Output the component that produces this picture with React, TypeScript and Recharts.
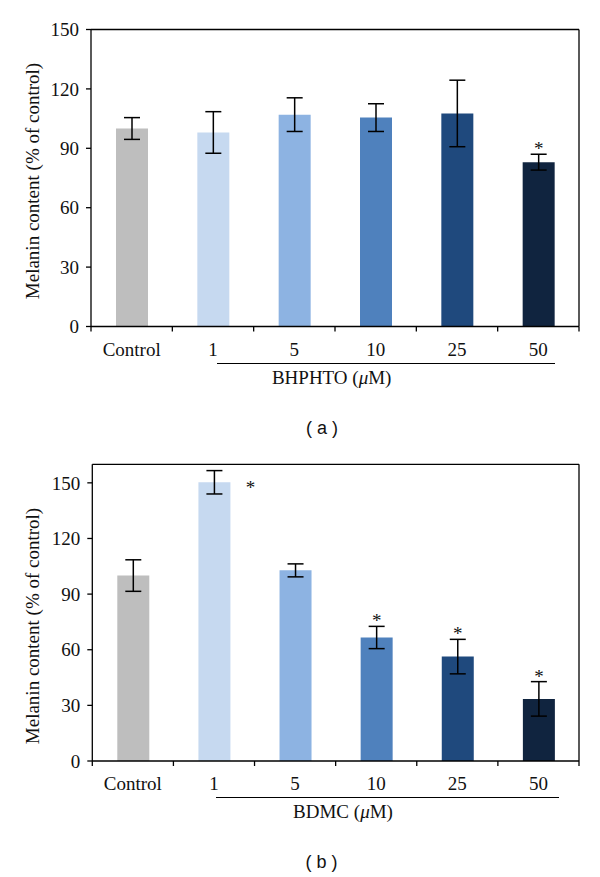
import { BarChart, Bar, Cell, XAxis, YAxis, ErrorBar, LabelList, Label, CartesianGrid } from 'recharts';

const categories = ['Control', '1', '5', '10', '25', '50'];
const barColors = ['#bebebe', '#c6d9f0', '#8db3e2', '#4f81bd', '#1f497d', '#10243f'];

// (a) BHPHTO
const bhphtoMean = [100, 98, 107, 105.5, 107.6, 83];
const bhphtoErr = [5.5, 10.5, 8.5, 7, 16.8, 4];
const bhphtoStars = [null, null, null, null, null, 'top'];

// (b) BDMC
const bdmcMean = [100, 150.3, 102.8, 66.6, 56.3, 33.5];
const bdmcErr = [8.5, 6.3, 3.5, 6, 9.3, 9.3];
const bdmcStars = [null, 'right', null, 'top', 'top', 'top'];

const yTicks = [0, 30, 60, 90, 120, 150];

const SERIF = '"Liberation Serif", "Times New Roman", serif';
const SANS = '"Liberation Sans", Arial, sans-serif';
const FS = 19;

function buildRows(mean: number[], err: number[]) {
  return categories.map((name, i) => ({ name, value: mean[i], err: err[i] }));
}

function makeTick(band: number) {
  return function CategoryTick(props: any) {
    const { x, y, payload, index } = props;
    const half = band / 2;
    return (
      <g>
        <line x1={x - half} x2={x - half} y1={y} y2={y + 5} stroke="#000" strokeWidth={1.3} />
        {index === categories.length - 1 && (
          <line x1={x + half} x2={x + half} y1={y} y2={y + 5} stroke="#000" strokeWidth={1.3} />
        )}
        <text x={x} y={y + 29} textAnchor="middle" fontFamily={SERIF} fontSize={FS} fill="#111">
          {payload.value}
        </text>
      </g>
    );
  };
}

function makeStars(err: number[], marks: (string | null)[]) {
  return function Star(props: any) {
    const { x, y, width, height, value, index } = props;
    const mark = marks[index];
    if (!mark || !value) return null;
    const perUnit = height / value;
    if (mark === 'right') {
      return (
        <text x={x + width + 20} y={y + 12} textAnchor="middle" fontFamily={SERIF} fontSize={FS} fill="#111">
          *
        </text>
      );
    }
    const top = y - err[index] * perUnit;
    return (
      <text x={x + width / 2} y={top + 1} textAnchor="middle" fontFamily={SERIF} fontSize={FS} fill="#111">
        *
      </text>
    );
  };
}

function yLabel(cy: number) {
  return () => (
    <text
      x={32}
      y={cy}
      transform={`rotate(-90, 32, ${cy})`}
      textAnchor="middle"
      dominantBaseline="central"
      fontFamily={SERIF}
      fontSize={FS}
      fill="#111"
    >
      Melanin content (% of control)
    </text>
  );
}

interface PanelProps {
  mean: number[];
  err: number[];
  stars: (string | null)[];
  height: number;
  top: number;
  bottom: number;
  left: number;
  yMax: number;
  labelY: number;
}

function Panel({ mean, err, stars, height, top, bottom, left, yMax, labelY }: PanelProps) {
  const data = buildRows(mean, err);
  const band = (579 - left) / categories.length;
  return (
    <BarChart width={600} height={height} data={data} margin={{ top, right: 21, left: 0, bottom }}>
      {/* top and right frame lines */}
      <CartesianGrid
        stroke="#000"
        strokeWidth={1.3}
        horizontalCoordinatesGenerator={({ offset }: any) => [offset.top]}
        verticalCoordinatesGenerator={({ offset }: any) => [offset.left + offset.width]}
      />
      <XAxis
        dataKey="name"
        interval={0}
        tickLine={false}
        tickSize={0}
        tickMargin={0}
        height={30}
        stroke="#000"
        strokeWidth={1.3}
        tick={makeTick(band)}
      />
      <YAxis
        domain={[0, yMax]}
        ticks={yTicks}
        allowDataOverflow
        width={left}
        tickSize={5}
        tickMargin={7}
        stroke="#000"
        strokeWidth={1.3}
        tick={{ fill: '#111', fontSize: FS, fontFamily: SERIF }}
      >
        <Label position="center" content={yLabel(labelY)} />
      </YAxis>
      <Bar dataKey="value" barSize={32} isAnimationActive={false}>
        {data.map((_, i) => (
          <Cell key={i} fill={barColors[i]} />
        ))}
        <ErrorBar dataKey="err" width={8} stroke="#000" strokeWidth={1.5} direction="y" />
        <LabelList dataKey="value" content={makeStars(err, stars)} />
      </Bar>
    </BarChart>
  );
}

function GroupLabel({ top, x1, x2, cx, text }: { top: number; x1: number; x2: number; cx: number; text: string }) {
  return (
    <>
      <div style={{ position: 'absolute', left: x1, top, width: x2 - x1, height: 0, borderTop: '1.3px solid #000' }} />
      <div
        style={{
          position: 'absolute',
          left: cx - 100,
          width: 200,
          top: top + 4,
          textAlign: 'center',
          fontFamily: SERIF,
          fontSize: FS,
          color: '#111',
          lineHeight: '22px',
        }}
      >
        {text} (<i>μ</i>M)
      </div>
    </>
  );
}

function Caption({ top, cx, text }: { top: number; cx: number; text: string }) {
  return (
    <div
      style={{
        position: 'absolute',
        left: cx - 50,
        width: 100,
        top,
        textAlign: 'center',
        fontFamily: SANS,
        fontSize: 18,
        color: '#111',
        lineHeight: '20px',
        whiteSpace: 'pre',
      }}
    >
      {text}
    </div>
  );
}

export default function App() {
  return (
    <div style={{ position: 'absolute', left: 0, top: 0, width: 600, height: 877, background: '#fff' }}>
      <div style={{ position: 'absolute', left: 0, top: 0 }}>
        <Panel mean={bhphtoMean} err={bhphtoErr} stars={bhphtoStars} height={430} top={29.5} bottom={73.5} left={91} yMax={150} labelY={181} />
      </div>
      <GroupLabel top={363} x1={216.7} x2={555} cx={331.7} text="BHPHTO" />
      <Caption top={418} cx={322} text="( a )" />

      <div style={{ position: 'absolute', left: 0, top: 430 }}>
        <Panel mean={bdmcMean} err={bdmcErr} stars={bdmcStars} height={447} top={34.3} bottom={86} left={92.3} yMax={160} labelY={196} />
      </div>
      <GroupLabel top={797} x1={216} x2={559} cx={343} text="BDMC" />
      <Caption top={852} cx={321.5} text="( b )" />
    </div>
  );
}
